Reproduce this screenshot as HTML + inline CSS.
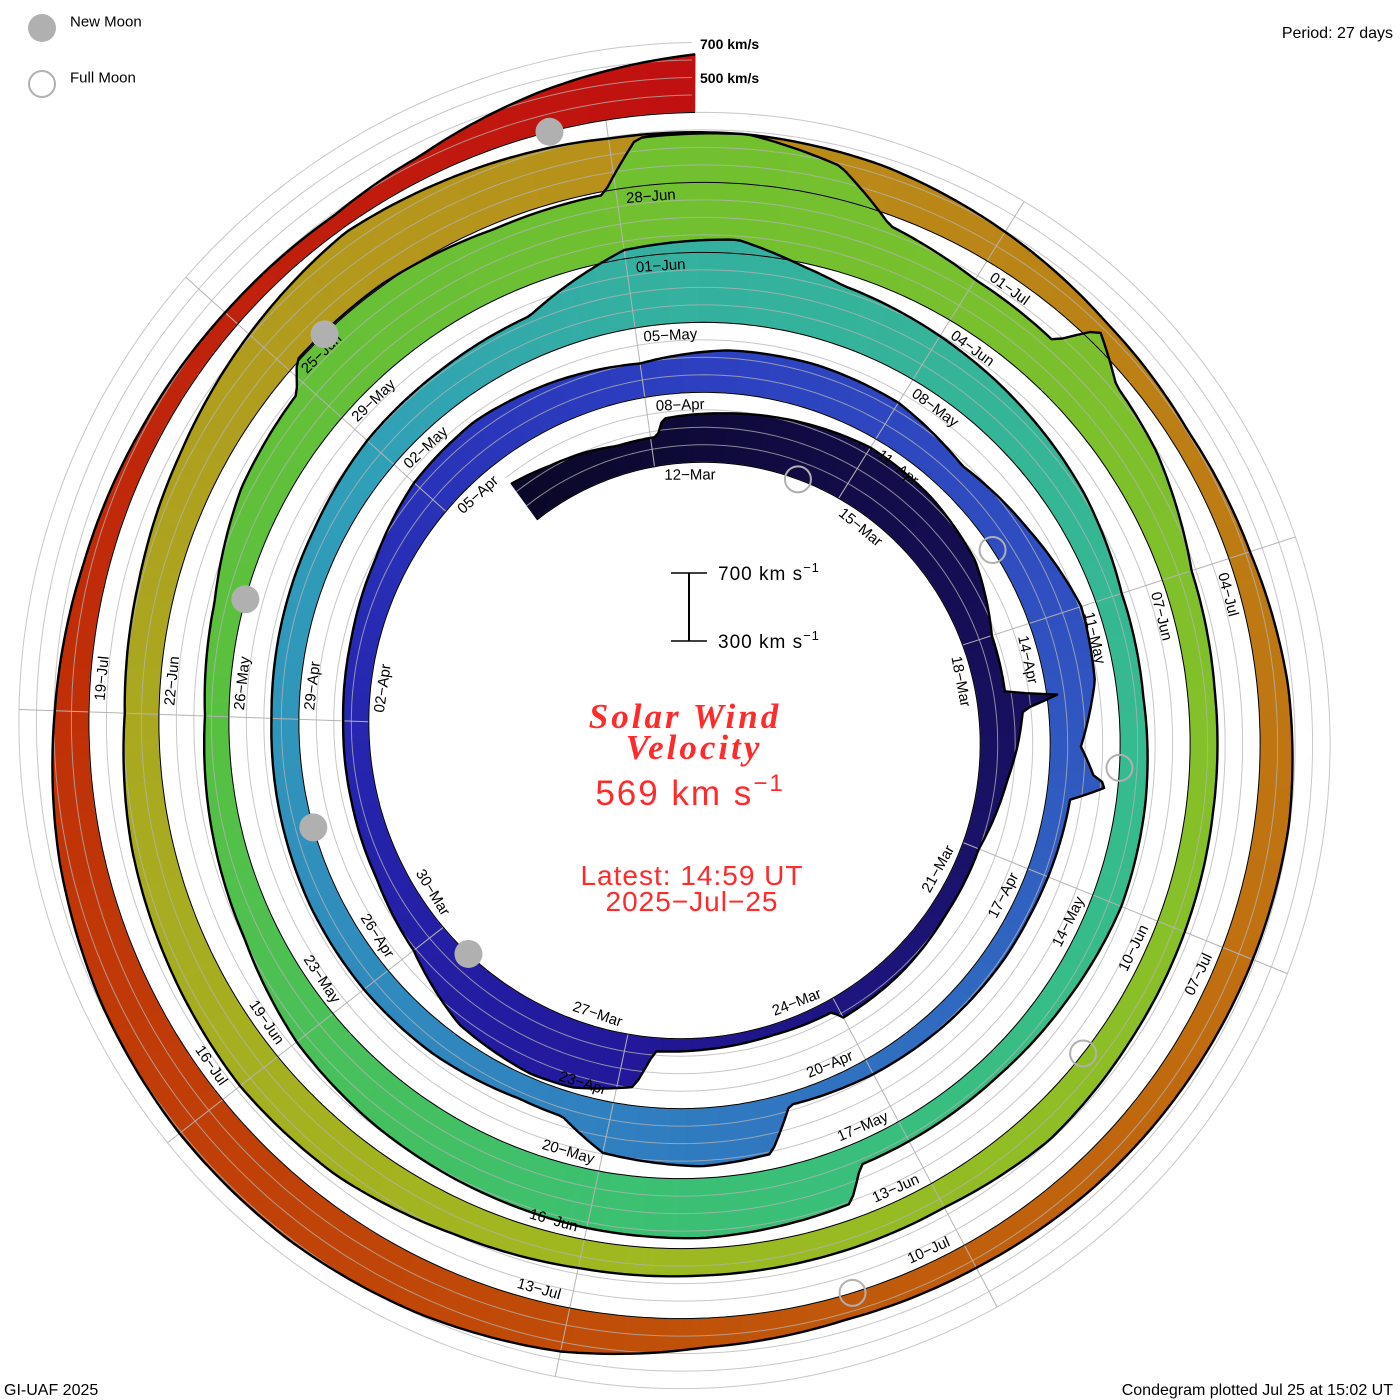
<!DOCTYPE html>
<html>
<head>
<meta charset="utf-8">
<title>Solar Wind Velocity Condegram</title>
<style>
  html,body{margin:0;padding:0;background:#fff;}
  #wrap{position:relative;width:1400px;height:1400px;overflow:hidden;background:#fff;}
  svg{position:absolute;left:0;top:0;}
  text{font-family:"Liberation Sans",sans-serif;}
</style>
</head>
<body>
<div id="wrap">
<svg id="chart" width="1400" height="1400" viewBox="0 0 1400 1400">
  <g id="bands"></g>
  <g id="grid"></g>
  <g id="outlines"></g>
  <g id="labels"></g>
  <g id="moons"></g>

  <!-- legend -->
  <circle cx="42" cy="28" r="14" fill="#b0b0b0"/>
  <text x="70" y="22" font-size="15" dominant-baseline="central" fill="#000">New Moon</text>
  <circle cx="42" cy="84" r="13" fill="none" stroke="#b0b0b0" stroke-width="2"/>
  <text x="70" y="78" font-size="15" dominant-baseline="central" fill="#000">Full Moon</text>
  <text x="1393" y="38" font-size="16" text-anchor="end" fill="#000">Period: 27 days</text>
  <text x="700" y="49" font-size="14" font-weight="bold" fill="#000">700 km/s</text>
  <text x="700" y="83" font-size="14" font-weight="bold" fill="#000">500 km/s</text>

  <!-- scale bar -->
  <g>
    <line x1="689" y1="573" x2="689" y2="641" stroke="#000" stroke-width="2"/>
    <line x1="671" y1="573" x2="707" y2="573" stroke="#000" stroke-width="1.5"/>
    <line x1="671" y1="641" x2="707" y2="641" stroke="#000" stroke-width="1.5"/>
    <text x="718" y="580" font-size="19" fill="#000" letter-spacing="1">700 km s<tspan dy="-8" font-size="13">−1</tspan></text>
    <text x="718" y="648" font-size="19" fill="#000" letter-spacing="1">300 km s<tspan dy="-8" font-size="13">−1</tspan></text>
  </g>

  <!-- central title -->
  <text x="685" y="728" font-size="35" font-style="italic" font-weight="bold" text-anchor="middle" fill="#ff2a2a" letter-spacing="3" style="font-family:'Liberation Serif',serif">Solar Wind</text>
  <text x="694" y="759" font-size="35" font-style="italic" font-weight="bold" text-anchor="middle" fill="#ff2a2a" letter-spacing="3" style="font-family:'Liberation Serif',serif">Velocity</text>
  <text x="690" y="805" font-size="35" text-anchor="middle" fill="#ff2a2a" letter-spacing="2">569 km s<tspan dy="-14" font-size="24">−1</tspan></text>
  <text x="692" y="885" font-size="28" text-anchor="middle" fill="#ff2a2a" letter-spacing="1">Latest: 14:59 UT</text>
  <text x="692" y="911" font-size="28" text-anchor="middle" fill="#ff2a2a" letter-spacing="1">2025−Jul−25</text>

  <text x="4" y="1395" font-size="16" fill="#000">GI-UAF 2025</text>
  <text x="1393" y="1395" font-size="16" text-anchor="end" fill="#000">Condegram plotted Jul 25 at 15:02 UT</text>
</svg>
</div>
<script>
// ---- data: time in days after 2025-03-12 00 UT, solar wind speed in km/s ----
const times = [
 -2.1,-1.5,-1,-0.5,0.1,0.2,1,2,3,4,5,6,6.8,6.9,7.05,7.5,8,9,10,11,12,12.1,13,14,14.6,14.8,15.5,16,17,18,19,20,21,22,23,24,25,26,
 27,28,29,30,31,32,33,33.8,34.5,34.8,34.9,35.1,35.8,36.5,37,38,39,40,40.3,41,42,42.5,43,44,45,46,47,48,49,50,51,52,53,
 54,55,55.6,56,57,58,59,60,61,62,63,64,65,66.5,66.7,68,69,70,71,72,73,74,75,76,77,77.9,78.1,79,80,80.9,
 81.2,82,82.7,83.2,84,84.8,85,85.4,86,87,88,89,90,91,92,93,94,95,96,97,98,99,100,101,102,103,104,105,106,107,107.8,
 108,109,110,111,112,113,114,115,116,117,118,119,120,121,122,123,124,125,126,127,128,129,130,131,132,133,133.5,133.7,134.6,135.62
];
const speeds = [
 560,520,500,470,470,570,590,620,650,630,590,480,470,770,560,520,470,400,400,420,430,370,360,370,380,600,680,690,650,520,470,455,450,460,490,550,570,540,
 500,550,560,550,480,540,620,590,480,560,650,440,430,420,420,410,395,370,620,640,600,450,440,470,480,480,470,460,470,480,510,520,540,
 760,790,690,640,600,560,520,460,450,470,480,450,430,430,620,650,640,620,600,570,500,470,440,470,560,590,720,720,680,690,
 990,1000,900,650,580,560,790,640,600,480,460,460,470,480,500,460,460,460,470,500,560,580,560,540,500,520,560,620,680,640,610,
 600,590,560,500,440,410,430,480,500,490,480,470,450,440,470,560,600,620,620,600,560,500,450,420,400,390,420,430,540,640,560
];
const colorStopDays = [-2.1,3,9,15,21,27,33,42,51,54,63,69,75,81,90,96,102,108,117,123,129,135.62];
const colorStopHex = ["#0a0828","#120c48","#1a1268","#22189a","#2626b0","#2c3ec0","#3050c0","#3080c0","#30a0b8","#34b0a0","#36bc8c","#3cc070","#58c040","#70c030","#88c028","#a0b820","#aaa820","#b8901a","#c07010","#c04c08","#c03008","#c01010"];
const newMoonDays = [17.5, 46.8, 76.1, 105.4, 134.6];
const fullMoonDays = [2.3, 32.0, 61.7, 91.3, 120.9];
const labelDays = [0,3,6,9,12,15,18,21,24,27,30,33,36,39,42,45,48,51,54,57,60,63,66,69,72,75,78,81,84,87,90,93,96,99,102,105,108,111,114,117,120,123,126,129];
const monthNames = ["Jan","Feb","Mar","Apr","May","Jun","Jul","Aug","Sep","Oct","Nov","Dec"];

// ---- geometry ----
const CX = 692, CY = 733;
const R0 = 270.5, RPD = 70/360;
const K = 0.171, V0 = 300;
const SVGNS = "http://www.w3.org/2000/svg";
function phiOf(t){ return -8 + t*360/27; }
function baseR(phi){ return R0 + RPD*phi; }
function px(phi,r){ const a=phi*Math.PI/180; return [CX + r*Math.sin(a), CY - r*Math.cos(a)]; }
function speedR(t){ return baseR(phiOf(t)) + (vAt(t)-V0)*K; }
function vAt(t){
  if (t<=times[0]) return speeds[0];
  for (let i=1;i<times.length;i++){
    if (t<=times[i]){ const f=(t-times[i-1])/(times[i]-times[i-1]); return speeds[i-1]+f*(speeds[i]-speeds[i-1]); }
  }
  return speeds[speeds.length-1];
}
function hex2rgb(h){ return [parseInt(h.substr(1,2),16),parseInt(h.substr(3,2),16),parseInt(h.substr(5,2),16)]; }
function colorAt(t){
  let i=1; while(i<colorStopDays.length-1 && t>colorStopDays[i]) i++;
  const a=hex2rgb(colorStopHex[i-1]), b=hex2rgb(colorStopHex[i]);
  let f=(t-colorStopDays[i-1])/(colorStopDays[i]-colorStopDays[i-1]); f=Math.max(0,Math.min(1,f));
  return "rgb("+Math.round(a[0]+f*(b[0]-a[0]))+","+Math.round(a[1]+f*(b[1]-a[1]))+","+Math.round(a[2]+f*(b[2]-a[2]))+")";
}
const fmt = p => p[0].toFixed(1)+","+p[1].toFixed(1);

// ---- bands ----
const bands = document.getElementById("bands");
const tStart = times[0], tEnd = times[times.length-1], dt = 0.06;
const n = Math.ceil((tEnd-tStart)/dt);
for (let i=n-1;i>=0;i--){
  const t1 = tStart + i*dt, t2 = Math.min(tEnd, t1+dt);
  const f1=phiOf(t1), f2=phiOf(t2);
  const b1=baseR(f1), b2=baseR(f2);
  const o1=speedR(t1), o2=speedR(t2);
  const col = colorAt((t1+t2)/2);
  const poly = document.createElementNS(SVGNS,"polygon");
  poly.setAttribute("points", [px(f1,b1),px(f2,b2),px(f2,o2),px(f1,o1)].map(fmt).join(" "));
  poly.setAttribute("fill", col);
  poly.setAttribute("stroke", col);
  poly.setAttribute("stroke-width", "0.6");
  
  
  bands.appendChild(poly);
}

// ---- grid ----
const grid = document.getElementById("grid");
for (let k=0;k<=4;k++){
  let d="";
  for (let phi=-36; phi<=1800; phi+=1){
    const p = px(phi, baseR(phi)+k*17.5);
    d += (phi===-36?"M":"L")+fmt(p);
  }
  const path = document.createElementNS(SVGNS,"path");
  path.setAttribute("d", d);
  path.setAttribute("fill","none");
  path.setAttribute("stroke","#b4b4b4");
  path.setAttribute("stroke-opacity","0.75");
  path.setAttribute("stroke-width","1");
  
  
  grid.appendChild(path);
}
for (let k=0;k<9;k++){
  const phi = -8 + 40*k;
  const p1 = px(phi, baseR(phi)), p2 = px(phi, baseR(phi+1440)+70);
  const ln = document.createElementNS(SVGNS,"line");
  ln.setAttribute("x1",p1[0]); ln.setAttribute("y1",p1[1]);
  ln.setAttribute("x2",p2[0]); ln.setAttribute("y2",p2[1]);
  ln.setAttribute("stroke","#b4b4b4");
  ln.setAttribute("stroke-width","1");
  
  
  grid.appendChild(ln);
}

// ---- outlines ----
const outlines = document.getElementById("outlines");
let dOut="", dBase="";
for (let i=0;i<=n;i++){
  const t = Math.min(tEnd, tStart+i*dt), f=phiOf(t);
  dOut += (i===0?"M":"L")+fmt(px(f, speedR(t)));
  dBase += (i===0?"M":"L")+fmt(px(f, baseR(f)));
}
const outer = document.createElementNS(SVGNS,"path");
outer.setAttribute("d", dOut);
outer.setAttribute("fill","none");
outer.setAttribute("stroke","#000");
outer.setAttribute("stroke-width","2.4");
outer.setAttribute("stroke-linejoin","round");


outlines.appendChild(outer);
const base = document.createElementNS(SVGNS,"path");
base.setAttribute("d", dBase);
base.setAttribute("fill","none");
base.setAttribute("stroke","#000");
base.setAttribute("stroke-width","1");


outlines.appendChild(base);

// ---- date labels ----
const labels = document.getElementById("labels");
for (const t of labelDays){
  const dt0 = new Date(Date.UTC(2025,2,12) + t*86400000);
  const txt = String(dt0.getUTCDate()).padStart(2,"0")+"−"+monthNames[dt0.getUTCMonth()];
  const phi = phiOf(t);
  const r = baseR(phi) - 11;
  const half = 34/r*180/Math.PI;
  const pc = phi + half;
  const p = px(pc, r);
  let a = ((pc%360)+360)%360; if (a>180) a-=360;
  const rot = (Math.abs(a)>90) ? a-180 : a;
  const el = document.createElementNS(SVGNS,"text");
  el.setAttribute("x", p[0].toFixed(1));
  el.setAttribute("y", p[1].toFixed(1));
  el.setAttribute("font-size","15");
  el.setAttribute("text-anchor","middle");
  el.setAttribute("dominant-baseline","central");
  el.setAttribute("fill","#000");
  el.setAttribute("transform","rotate("+rot.toFixed(1)+" "+p[0].toFixed(1)+" "+p[1].toFixed(1)+")");
  el.textContent = txt;
  
  
  labels.appendChild(el);
}

// ---- moons ----
const moons = document.getElementById("moons");
for (const t of newMoonDays){
  const f=phiOf(t), p=px(f, baseR(f));
  const c=document.createElementNS(SVGNS,"circle");
  c.setAttribute("cx",p[0]); c.setAttribute("cy",p[1]); c.setAttribute("r","14");
  c.setAttribute("fill","#b0b0b0");
  
  
  moons.appendChild(c);
}
for (const t of fullMoonDays){
  const f=phiOf(t), p=px(f, baseR(f));
  const c=document.createElementNS(SVGNS,"circle");
  c.setAttribute("cx",p[0]); c.setAttribute("cy",p[1]); c.setAttribute("r","13");
  c.setAttribute("fill","none"); c.setAttribute("stroke","#b0b0b0"); c.setAttribute("stroke-width","2");
  
  
  moons.appendChild(c);
}
</script>
</body>
</html>
